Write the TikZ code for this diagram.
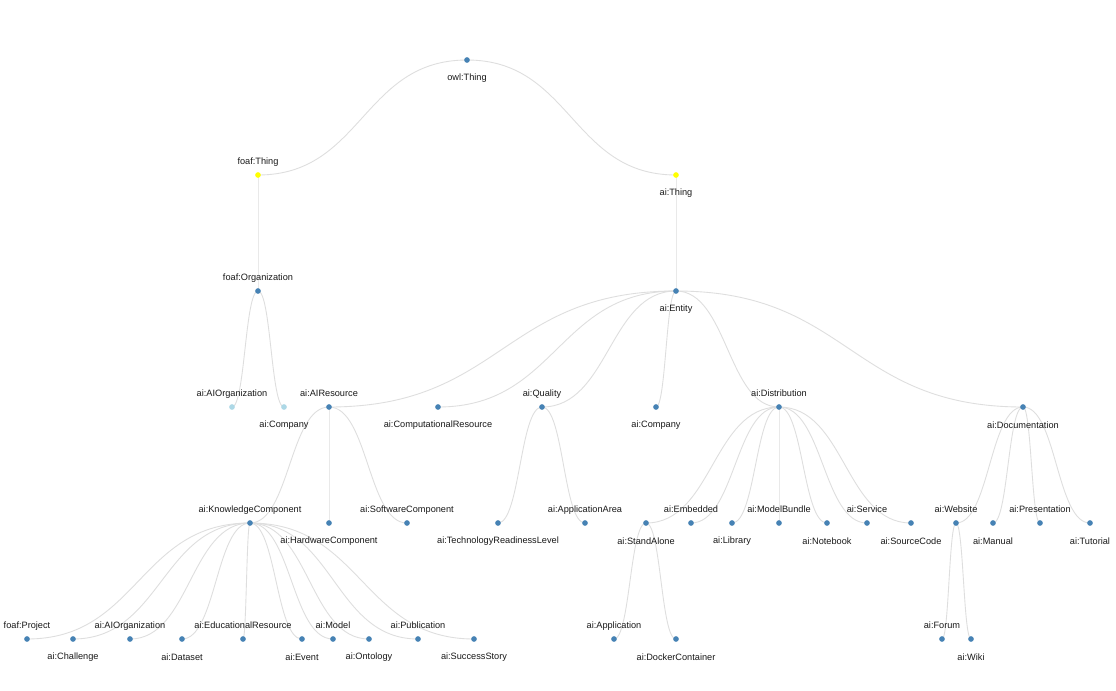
\documentclass[tikz,border=0pt]{standalone}
\usepackage{fontspec}
\setmainfont{Liberation Sans}
\usetikzlibrary{calc,backgrounds}
\definecolor{steel}{HTML}{4682B4}
\definecolor{ylw}{HTML}{FFFF00}
\definecolor{lblue}{HTML}{ADD8E6}
\definecolor{edgec}{HTML}{DEDEDE}
\tikzset{
  dot/.style={circle,fill=steel,inner sep=0pt,minimum size=0.17cm},
  ydot/.style={dot,fill=ylw},
  ldot/.style={dot,fill=lblue},
  lab/.style={inner sep=0pt,font=\fontsize{7.85}{9}\selectfont,text=black!90},
  labove/.style={lab,yshift=0.40cm},
  lbelow/.style={lab,yshift=-0.54cm},
  lnk/.style={draw=edgec,line width=0.75pt,
    to path={let \p1=(\tikztostart), \p2=(\tikztotarget),
      \p3=($(\tikztostart)!0.5!(\tikztotarget)$) in
      .. controls (\x3,\y1) and (\x3,\y2) .. (\tikztotarget)}}
}
\newcommand\mknode[5][dot]{\node[#1] (#2) at (#3) {};\node[#4] (#2-l) at (#2.center) {#5};}
\begin{document}
\begin{tikzpicture}[x=0.03cm,y=-0.03cm]
\useasboundingbox (0,0) rectangle (1116,690);
% level 0-2
\mknode{owl}{467,60}{lbelow}{owl:Thing}
\mknode[ydot]{fthing}{258,175}{labove}{foaf:Thing}
\mknode[ydot]{athing}{676,175}{lbelow}{ai:Thing}
\mknode{forg}{258,291}{labove}{foaf:Organization}
\mknode{entity}{676,291}{lbelow}{ai:Entity}
% level 3
\mknode[ldot]{faiorg}{232,407}{labove}{ai:AIOrganization}
\mknode[ldot]{fcomp}{284,407}{lbelow}{ai:Company}
\mknode{aires}{329,407}{labove}{ai:AIResource}
\mknode{comp}{438,407}{lbelow}{ai:ComputationalResource}
\mknode{qual}{542,407}{labove}{ai:Quality}
\mknode{comp2}{656,407}{lbelow}{ai:Company}
\mknode{dist}{779,407}{labove}{ai:Distribution}
\mknode{doc}{1023,407}{lbelow}{ai:Documentation}
% level 4
\mknode{know}{250,523}{labove}{ai:KnowledgeComponent}
\mknode{hard}{329,523}{lbelow}{ai:HardwareComponent}
\mknode{soft}{407,523}{labove}{ai:SoftwareComponent}
\mknode{trl}{498,523}{lbelow}{ai:TechnologyReadinessLevel}
\mknode{apparea}{585,523}{labove}{ai:ApplicationArea}
\mknode{stand}{646,523}{lbelow}{ai:StandAlone}
\mknode{emb}{691,523}{labove}{ai:Embedded}
\mknode{lib}{732,523}{lbelow}{ai:Library}
\mknode{mb}{779,523}{labove}{ai:ModelBundle}
\mknode{nb}{827,523}{lbelow}{ai:Notebook}
\mknode{serv}{867,523}{labove}{ai:Service}
\mknode{src}{911,523}{lbelow}{ai:SourceCode}
\mknode{web}{956,523}{labove}{ai:Website}
\mknode{man}{993,523}{lbelow}{ai:Manual}
\mknode{pres}{1040,523}{labove}{ai:Presentation}
\mknode{tut}{1090,523}{lbelow}{ai:Tutorial}
% level 5
\mknode{proj}{27,639}{labove}{foaf:Project}
\mknode{chal}{73,639}{lbelow}{ai:Challenge}
\mknode{aiorg}{130,639}{labove}{ai:AIOrganization}
\mknode{data}{182,639}{lbelow}{ai:Dataset}
\mknode{edu}{243,639}{labove}{ai:EducationalResource}
\mknode{event}{302,639}{lbelow}{ai:Event}
\mknode{model}{333,639}{labove}{ai:Model}
\mknode{onto}{369,639}{lbelow}{ai:Ontology}
\mknode{pub}{418,639}{labove}{ai:Publication}
\mknode{succ}{474,639}{lbelow}{ai:SuccessStory}
\mknode{appl}{614,639}{labove}{ai:Application}
\mknode{dock}{676,639}{lbelow}{ai:DockerContainer}
\mknode{forum}{942,639}{labove}{ai:Forum}
\mknode{wiki}{971,639}{lbelow}{ai:Wiki}
\begin{scope}[on background layer]
\fill[white] (0,0) rectangle (1116,690);
\foreach \a/\b in {owl/fthing,owl/athing,fthing/forg,athing/entity,
  forg/faiorg,forg/fcomp,
  entity/aires,entity/comp,entity/qual,entity/comp2,entity/dist,entity/doc,
  aires/know,aires/hard,aires/soft,qual/trl,qual/apparea,
  dist/stand,dist/emb,dist/lib,dist/mb,dist/nb,dist/serv,dist/src,
  doc/web,doc/man,doc/pres,doc/tut,
  know/proj,know/chal,know/aiorg,know/data,know/edu,know/event,know/model,know/onto,know/pub,know/succ,
  stand/appl,stand/dock,web/forum,web/wiki}
  \draw[lnk] (\a.center) to (\b.center);
\end{scope}
\end{tikzpicture}
\end{document}
